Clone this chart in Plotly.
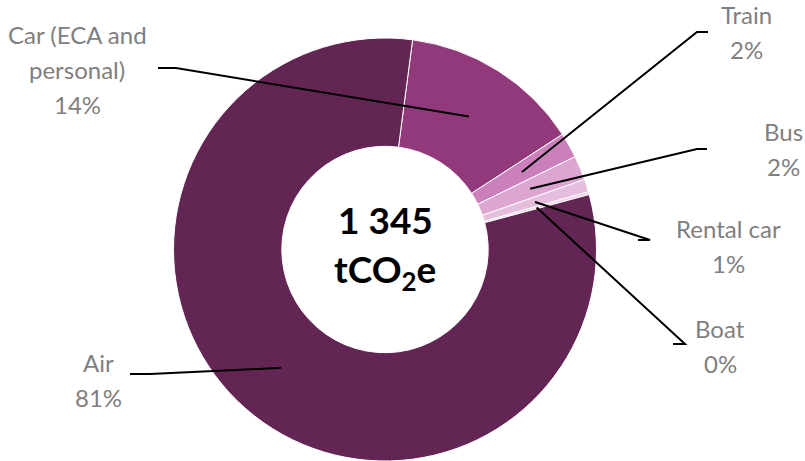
import math
import plotly.graph_objects as go

# ---- data ----
categories = ["Car (ECA and personal)", "Train", "Bus", "Rental car", "Boat", "Air"]
values = [185, 26, 25, 13, 3, 1093]          # tCO2e
label_lines = [["Car (ECA and", "personal)"], ["Train"], ["Bus"], ["Rental car"], ["Boat"], ["Air"]]
center_number = "1 345"
center_unit = "tCO<sub>2</sub>e"

# ---- style ----
colors = ["#92397B", "#CB80BC", "#DCA6D1", "#E6BEDD", "#EDD0E6", "#632654"]
W, H = 805, 461
CX, CY, R = 385.0, 249.5, 211.5
HOLE = 0.488
ROTATION = 7.5
FONT = "Lato, 'Open Sans', sans-serif"
LABEL_COLOR = "#7F7F7F"
LABEL_SIZE = 24
LINE_GAP = 35
# label text centre (x, first-line y) and stub (outer x, inner x, y) in pixels
label_pos = [(77, 34), (746, 15), (783, 131), (728, 228), (720, 328), (98, 362)]
stubs = [(158, 176, 68), (708, 697, 32), (707, 697, 149), (638, 650, 240), (673, 685, 344), (130, 150, 374)]


def px(x):
    return x / W


def py(y):
    return 1 - y / H


fig = go.Figure(go.Pie(
    labels=categories, values=values, hole=HOLE, sort=False,
    direction="clockwise", rotation=ROTATION, textinfo="none",
    hoverinfo="label+percent+value",
    marker=dict(colors=colors, line=dict(color="white", width=1)),
    domain=dict(x=[px(CX - R), px(CX + R)], y=[py(CY + R), py(CY - R)]),
    showlegend=False,
))

total = sum(values)
annotations = []
shapes = []
cum = 0.0
for i, v in enumerate(values):
    mid_frac = (cum + v / 2) / total
    cum += v
    ang = math.radians(ROTATION + mid_frac * 360)
    rmid = R * (1 + HOLE) / 2
    ax = CX + rmid * math.sin(ang)
    ay = CY - rmid * math.cos(ang)
    pct = f"{round(v / total * 100)}%"
    lines = label_lines[i] + [pct]
    lx, ly = label_pos[i]
    for k, t in enumerate(lines):
        annotations.append(dict(
            x=px(lx), y=py(ly + k * LINE_GAP), xref="paper", yref="paper",
            text=t, showarrow=False, xanchor="center", yanchor="middle",
            font=dict(family=FONT, size=LABEL_SIZE, color=LABEL_COLOR)))
    sx0, sx1, sy = stubs[i]
    path = f"M {px(sx0)} {py(sy)} L {px(sx1)} {py(sy)} L {px(ax)} {py(ay)}"
    shapes.append(dict(type="path", path=path, xref="paper", yref="paper",
                       line=dict(color="black", width=2)))

annotations.append(dict(x=px(CX), y=py(220), xref="paper", yref="paper",
                        text=f"<b>{center_number}</b>", showarrow=False,
                        font=dict(family=FONT, size=37, color="black")))
annotations.append(dict(x=px(CX), y=py(271), xref="paper", yref="paper",
                        text=f"<b>{center_unit}</b>", showarrow=False,
                        font=dict(family=FONT, size=37, color="black")))

fig.update_layout(
    width=W, height=H, margin=dict(l=0, r=0, t=0, b=0),
    paper_bgcolor="white", plot_bgcolor="white",
    annotations=annotations, shapes=shapes,
)

fig.write_html("out.html")
